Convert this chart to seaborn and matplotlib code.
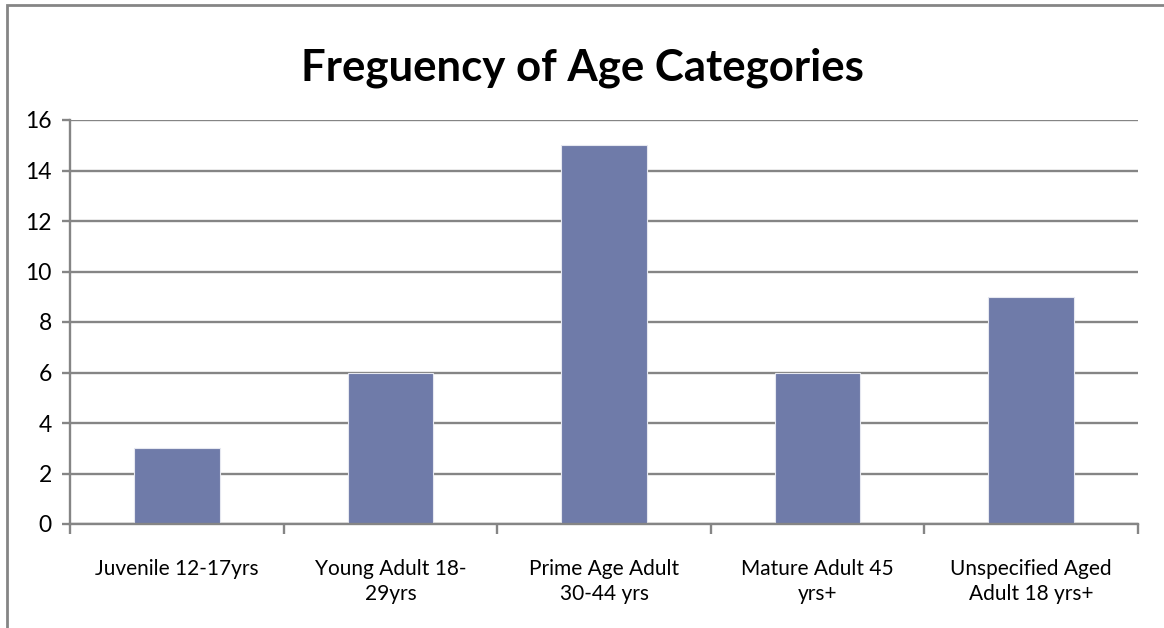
import matplotlib
matplotlib.use("Agg")
import matplotlib.pyplot as plt
from matplotlib.patches import Rectangle
from matplotlib.ticker import FixedLocator
import seaborn as sns
import pandas as pd

categories = [
    "Juvenile 12-17yrs",
    "Young Adult 18-\n29yrs",
    "Prime Age Adult\n30-44 yrs",
    "Mature Adult 45\nyrs+",
    "Unspecified Aged\nAdult 18 yrs+",
]
counts = [3, 6, 15, 6, 9]
y_ticks = [0, 2, 4, 6, 8, 10, 12, 14, 16]
title = "Freguency of Age Categories"

sns.set_theme(style="white")
plt.rcParams["font.family"] = ["Lato", "DejaVu Sans"]

grid_gray = "#858585"
bar_color = "#6F7BA9"

fig = plt.figure(figsize=(11.64, 6.28), dpi=100)
ax = fig.add_axes([70 / 1164, 1 - 524 / 628, (1138 - 70) / 1164, (524 - 120) / 628])

df = pd.DataFrame({"category": categories, "count": counts})
sns.barplot(data=df, x="category", y="count", color=bar_color, saturation=1,
            width=0.40, edgecolor="#E6E8F0", linewidth=0.8, ax=ax, zorder=3)

ax.set_xlim(-0.5, len(categories) - 0.5)
ax.set_ylim(0, 16)
ax.set_yticks(y_ticks)
ax.yaxis.grid(True, color=grid_gray, linewidth=1.7, zorder=0)
ax.set_axisbelow(True)

for side in ("top", "right"):
    ax.spines[side].set_visible(False)
for side in ("left", "bottom"):
    ax.spines[side].set_color(grid_gray)
    ax.spines[side].set_linewidth(1.7)
    ax.spines[side].set_zorder(4)

ax.tick_params(axis="y", which="major", direction="out", length=6, width=1.7,
               color=grid_gray, labelsize=16.5, labelcolor="black", pad=7, left=True)
ax.tick_params(axis="x", which="major", length=0, labelsize=15,
               labelcolor="black", pad=25)
ax.xaxis.set_minor_locator(FixedLocator([i - 0.5 for i in range(len(categories) + 1)]))
ax.tick_params(axis="x", which="minor", direction="out", length=7, width=1.7,
               color=grid_gray, bottom=True)
for lbl in ax.get_xticklabels():
    lbl.set_linespacing(1.3)

ax.set_xlabel("")
ax.set_ylabel("")

fig.text(0.5, 1 - 81 / 628, title, ha="center", va="baseline",
         fontsize=31.5, fontweight="bold", color="black")

# chart frame, open on the right and bottom
fig.add_artist(Rectangle((7 / 1164, -0.1), 1.2, 1.1 - 5 / 628,
                         transform=fig.transFigure, fill=False,
                         edgecolor=grid_gray, linewidth=2))

fig.savefig("out.png", dpi=100, facecolor="white")
